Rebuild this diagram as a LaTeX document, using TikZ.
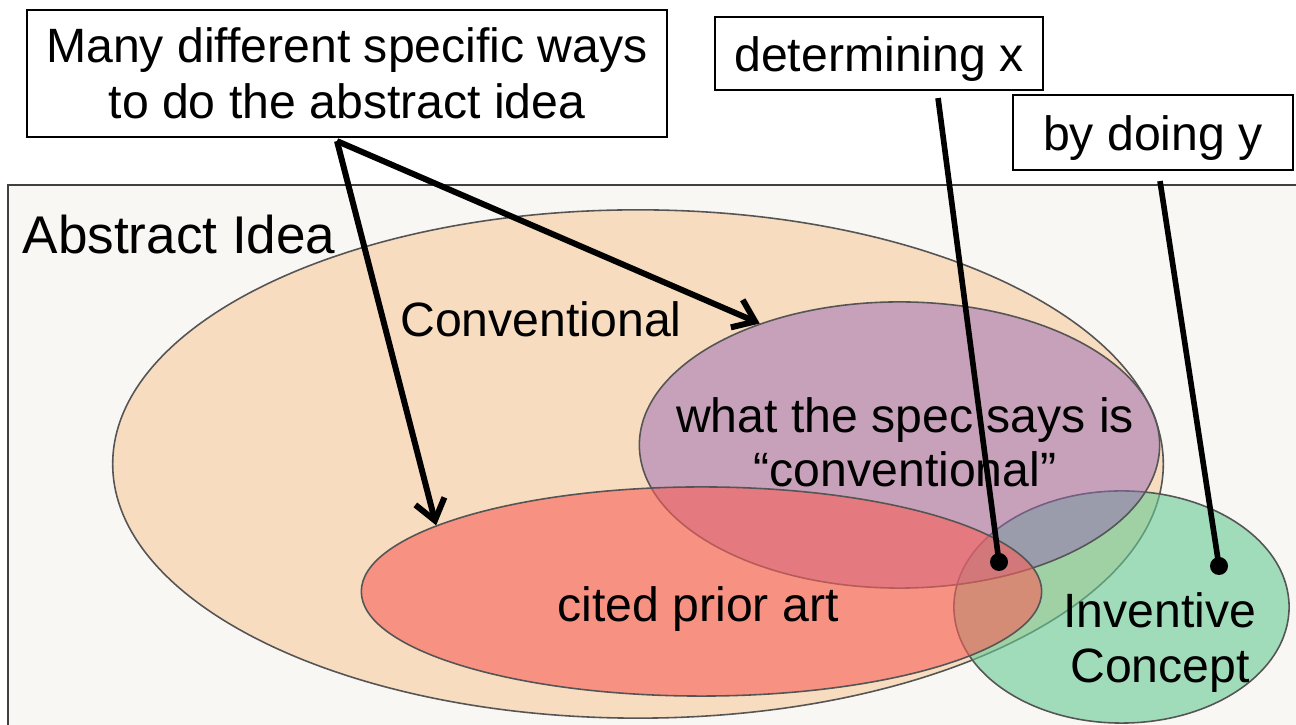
\documentclass[tikz,border=0pt]{standalone}
\usepackage{fontspec}
\setmainfont{Liberation Sans}
\usetikzlibrary{shapes.geometric,arrows.meta}
\definecolor{bgcol}{RGB}{249,247,243}
\definecolor{peach}{RGB}{247,220,192}
\definecolor{specpurple}{RGB}{150,104,180}
\definecolor{priorred}{RGB}{248,95,89}
\definecolor{inventgreen}{RGB}{101,202,148}
\definecolor{rim}{RGB}{85,85,85}

\begin{document}
\begin{tikzpicture}[x=0.01cm,y=-0.01cm,
    blob/.style={ellipse,draw=rim,line width=0.45pt,inner sep=0pt},
    label/.style={font=\fontsize{13.7}{15.65}\selectfont,inner sep=0pt,anchor=base},
    tag/.style={draw=black,fill=white,line width=0.6pt,align=center,inner sep=0pt,
      font=\fontsize{13.7}{15.65}\selectfont,text height=0.36cm,text depth=0.01cm},
    pointer/.style={line width=1.7pt,-{Straight Barb[length=0.2cm,width=0.3cm]}},
    stick/.style={line width=1.6pt},
    dot/.style={circle,fill=black,inner sep=0pt,minimum size=0.18cm}]
  \useasboundingbox (0,0) rectangle (1296,725);
  % backdrop
  \draw[fill=bgcol,draw=black!75,line width=0.5pt] (8,185) rectangle (1330,770);

  % the sets
  \node[blob,fill=peach,minimum width=10.5cm,minimum height=5.08cm] (abstract) at (638,464) {};
  \node[blob,fill=inventgreen,fill opacity=0.6,minimum width=3.35cm,minimum height=2.32cm] (inventive) at (1121.5,607) {};
  \node[blob,fill=specpurple,fill opacity=0.5,minimum width=5.2cm,minimum height=2.86cm] (spec) at (899.5,445) {};
  \node[blob,fill=priorred,fill opacity=0.6,minimum width=6.8cm,minimum height=2.09cm] (prior) at (701.5,591.5) {};

  \node[label,anchor=base west,font=\fontsize{15.1}{18}\selectfont] (idea) at (22,254) {Abstract Idea};
  \node[label] (conv) at (541,337) {Conventional};
  \node[label] (spectxt) at (905,433) {what the spec says is};
  \node[label] (spectxtb) at (905,487) {“conventional”};
  \node[label] (priortxt) at (698,622) {cited prior art};
  \node[label] (invtxt) at (1160,628) {Inventive};
  \node[label] (invtxtb) at (1160,683) {Concept};

  % callouts
  \node[tag,minimum width=6.4cm,minimum height=1.27cm,text height=0.9cm,text depth=0.01cm] (ways) at (347,73.5)
    {Many different specific ways\\to do the abstract idea};
  \node[tag,minimum width=3.28cm,minimum height=0.73cm] (detx) at (879,53.5) {determining x};
  \node[tag,minimum width=2.8cm,minimum height=0.75cm] (doy) at (1153,132.5) {by doing y};

  \node[dot] (dotx) at (999,562) {};
  \node[dot] (doty) at (1219,566) {};
  \draw[stick] ([xshift=0.59cm,yshift=-0.07cm]detx.south) -- (dotx.center);
  \draw[stick] ([xshift=0.07cm,yshift=-0.1cm]doy.south) -- (doty.center);

  \draw[pointer] ([xshift=-0.1cm,yshift=-0.03cm]ways.south) -- (spec.139);
  \draw[pointer] ([xshift=-0.1cm,yshift=-0.03cm]ways.south) -- (prior.166);
\end{tikzpicture}
\end{document}
